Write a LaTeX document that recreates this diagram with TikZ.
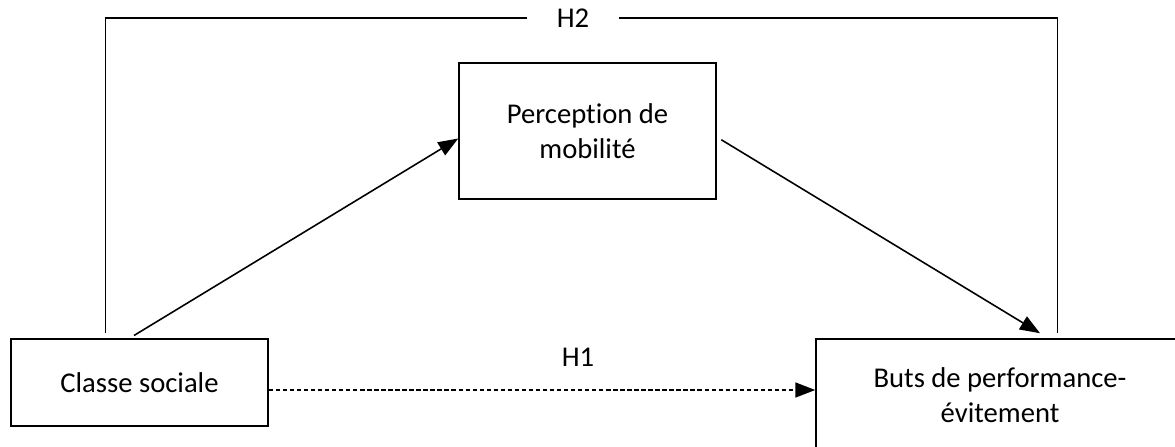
\documentclass[tikz,border=0pt]{standalone}
\usepackage{fontspec}
\setmainfont{Carlito}[Ligatures=NoCommon]
\usetikzlibrary{arrows.meta,calc}

\tikzset{
    varbox/.style={draw, line width=0.9pt, align=center, inner sep=0pt,
        font=\fontsize{16.3}{20}\selectfont},
    hyp/.style={font=\fontsize{16.3}{20}\selectfont, inner sep=0pt},
    path/.style={line width=0.9pt, -{Triangle[length=0.4cm, width=0.3cm]}},
}

\begin{document}
\begin{tikzpicture}[x=0.02cm, y=-0.02cm]
    %% Background
    \useasboundingbox (0,0) rectangle (1175,446);
    \clip (0,0) rectangle (1175,446);

    %% Variables
    \node[varbox, minimum width=5.14cm, minimum height=1.74cm] (classe) at (139.5,382.5) {Classe sociale};
    \node[varbox, minimum width=5.14cm, minimum height=2.72cm] (percep) at (587.5,131) {Perception de\\mobilité};
    \node[varbox, minimum width=7.36cm, minimum height=2.24cm] (buts) at (1000,395) {Buts de performance-\\évitement};

    %% Labels
    \node[hyp, minimum width=1.82cm] (h2) at (573,18) {H2};
    \node[hyp] (h1) at (578,357) {H1};

    %% Mediation
    \draw[path, shorten <=3pt] ([xshift=-0.2cm]classe.north) -- ([yshift=-0.15cm]percep.west);
    \draw[path, shorten <=3pt] ([yshift=-0.12cm]percep.east) -- ([xshift=0.8cm, yshift=0.1cm]buts.north);

    %% Direct effect
    \draw[line width=1pt, dash pattern=on 2.5pt off 1.5pt, -{Triangle[length=0.4cm, width=0.3cm]}]
        ($(classe.east |- buts.west)+(0,-5)$) -- ($(buts.west)+(0,-5)$);

    %% Total effect
    \draw[line width=0.7pt] ([xshift=-0.68cm, yshift=0.1cm]classe.north) |- (h2);
    \draw[line width=0.7pt] (h2) -| ([xshift=1.15cm, yshift=0.1cm]buts.north);
\end{tikzpicture}
\end{document}
